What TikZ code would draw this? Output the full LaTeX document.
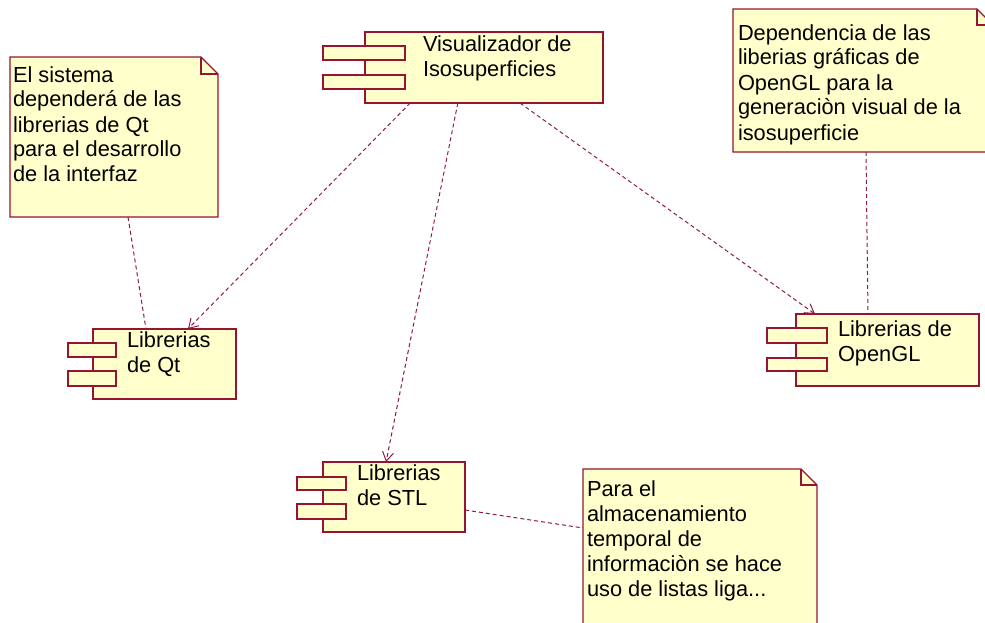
\documentclass[tikz,border=0pt]{standalone}
\usepackage{fontspec}
\setmainfont{Liberation Sans}
\usetikzlibrary{arrows.meta,calc}
\definecolor{umlborder}{RGB}{150,20,50}
\definecolor{umlfill}{RGB}{255,255,204}
\definecolor{umlline}{RGB}{140,30,70}
\begin{document}
\begin{tikzpicture}[x=1pt,y=-1pt,
  comp/.style={draw=umlborder,fill=umlfill,line width=1.2pt,inner sep=0pt,outer sep=0pt,rectangle},
  notearea/.style={inner sep=0pt,outer sep=0pt,rectangle},
  noteline/.style={draw=umlborder,line width=1.2pt,line join=miter},
  lbl/.style={anchor=base west,align=left,inner sep=0pt,outer sep=0pt,font=\fontsize{21.8}{25}\selectfont},
  dep/.style={draw=umlline,line width=1pt,dash pattern=on 4pt off 3pt,-{Straight Barb[length=9pt,width=11pt]}},
  link/.style={draw=umlline,line width=1pt,dash pattern=on 4pt off 3pt}]
\fill[white] (0,0) rectangle (985,623);
\useasboundingbox (0,0) rectangle (985,623);

% notes
\node[notearea,minimum width=208pt,minimum height=160pt] (nqt) at (114,137) {};
\node[notearea,minimum width=260pt,minimum height=143pt] (ngl) at (863,80.5) {};
\node[notearea,minimum width=234pt,minimum height=161pt] (nstl) at (700,549.5) {};
\foreach \n/\f in {nqt/17,ngl/16,nstl/16}{
  \fill[umlfill] (\n.north west) -- ($(\n.north east)+(-\f,0)$) -- ($(\n.north east)+(0,\f)$) -- (\n.south east) -- (\n.south west) -- cycle;
  \draw[noteline] (\n.north west) -- ($(\n.north east)+(-\f,0)$) -- ($(\n.north east)+(0,\f)$) -- (\n.south east) -- (\n.south west) -- cycle;
  \draw[noteline] ($(\n.north east)+(-\f,0)$) -- ($(\n.north east)+(-\f,\f)$) -- ($(\n.north east)+(0,\f)$);
}
% labels are anchored at the baseline of their last line
\node[lbl] (tnqt) at (13,182) {El sistema\\dependerá de las\\librerias de Qt\\para el desarrollo\\de la interfaz};
\node[lbl] (tngl) at (738,140) {Dependencia de las\\liberias gráficas de\\OpenGL para la\\generaciòn visual de la\\isosuperficie};
\node[lbl] (tnstl) at (587,596) {Para el\\almacenamiento\\temporal de\\informaciòn se hace\\uso de listas liga...};

% components
\node[comp,minimum width=238pt,minimum height=71pt] (viz) at (484,67.5) {};
\node[comp,minimum width=82pt,minimum height=14pt] (vizA) at (364,53) {};
\node[comp,minimum width=82pt,minimum height=14pt] (vizB) at (364,82) {};
\node[lbl] (tviz) at (423,77) {Visualizador de\\Isosuperficies};

\node[comp,minimum width=143pt,minimum height=70pt] (qt) at (164.5,364) {};
\node[comp,minimum width=48pt,minimum height=14pt] (qtA) at (92,350) {};
\node[comp,minimum width=48pt,minimum height=15pt] (qtB) at (92,378.5) {};
\node[lbl] (tqt) at (127,372) {Librerias\\de Qt};

\node[comp,minimum width=183pt,minimum height=72pt] (gl) at (887.5,350) {};
\node[comp,minimum width=60pt,minimum height=15pt] (glA) at (797,335.5) {};
\node[comp,minimum width=60pt,minimum height=13pt] (glB) at (797,364.5) {};
\node[lbl] (tgl) at (838,361) {Librerias de\\OpenGL};

\node[comp,minimum width=142pt,minimum height=70pt] (stl) at (394,497) {};
\node[comp,minimum width=49pt,minimum height=13pt] (stlA) at (321.5,483.5) {};
\node[comp,minimum width=49pt,minimum height=15pt] (stlB) at (321.5,511.5) {};
\node[lbl] (tstl) at (357,505) {Librerias\\de STL};

% connectors
\draw[dep] ($(viz.south west)!0.19!(viz.south east)$) -- ($(qt.north west)!0.664!(qt.north east)$);
\draw[dep] ($(viz.south west)!0.39!(viz.south east)$) -- ($(stl.north west)!0.444!(stl.north east)$);
\draw[dep] ($(viz.south west)!0.651!(viz.south east)$) -- ($(gl.north west)!0.104!(gl.north east)$);
\draw[link] ($(nqt.south west)+(118,0)$) -- ($(qt.north west)+(53,0)$);
\draw[link] ($(ngl.south west)+(133,0)$) -- ($(gl.north west)+(72,0)$);
\draw[link] ($(stl.north east)+(0,48)$) -- ($(nstl.north west)+(0,59)$);
\end{tikzpicture}
\end{document}
